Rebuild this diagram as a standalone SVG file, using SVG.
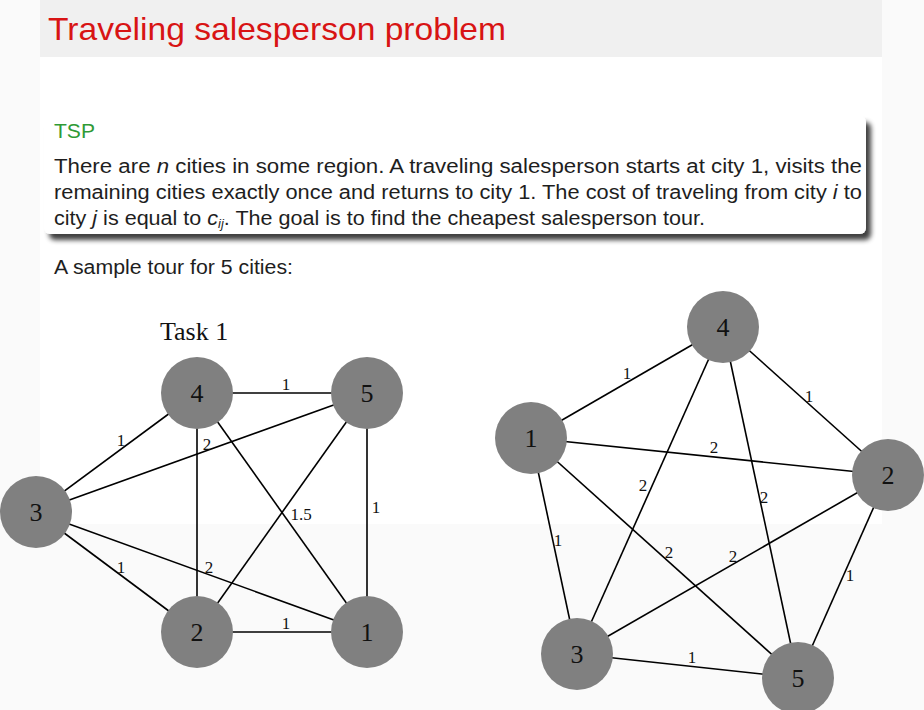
<svg xmlns="http://www.w3.org/2000/svg" width="924" height="710" viewBox="0 0 924 710">
<defs>
<style>
.body{font-family:"Liberation Sans",Arial,sans-serif;font-size:20px;fill:#1e1e1e}
.edge line{stroke:#000;stroke-width:1.6}
.node circle{fill:#808080}
.node text{font-family:"Liberation Serif","Times New Roman",serif;font-size:26px;fill:#111;text-anchor:middle}
.el{font-family:"Liberation Serif","Times New Roman",serif;font-size:17px;fill:#111;text-anchor:middle}
</style>
<filter id="sh" x="-5%" y="-20%" width="115%" height="150%">
<feGaussianBlur in="SourceAlpha" stdDeviation="2.5"/>
<feOffset dx="5" dy="6" result="o"/>
<feComponentTransfer><feFuncA type="linear" slope="0.75"/></feComponentTransfer>
<feMerge><feMergeNode/><feMergeNode in="SourceGraphic"/></feMerge>
</filter>
</defs>
<rect x="0" y="0" width="924" height="710" fill="#fafafa"/>
<rect x="40" y="57" width="842" height="467" fill="#ffffff"/>
<rect x="40" y="0" width="842" height="57" fill="#f0f0f0"/>
<text x="48" y="40" font-family="Liberation Sans,Arial,sans-serif" font-size="32" fill="#d81414" textLength="458" lengthAdjust="spacingAndGlyphs">Traveling salesperson problem</text>

<g id="tsp-box">
<rect x="44" y="116" width="822" height="118" rx="6" fill="#ffffff" filter="url(#sh)"/>
<text x="54" y="138" font-family="Liberation Sans,Arial,sans-serif" font-size="20" fill="#2f9a35" textLength="41" lengthAdjust="spacingAndGlyphs">TSP</text>
<text class="body" x="54" y="173" textLength="808" lengthAdjust="spacingAndGlyphs">There are <tspan font-style="italic">n</tspan> cities in some region.  A traveling salesperson starts at city 1, visits the</text>
<text class="body" x="54" y="199" textLength="808" lengthAdjust="spacingAndGlyphs">remaining cities exactly once and returns to city 1. The cost of traveling from city <tspan font-style="italic">i</tspan> to</text>
<text class="body" x="54" y="225" textLength="651" lengthAdjust="spacingAndGlyphs">city <tspan font-style="italic">j</tspan> is equal to <tspan font-style="italic">c</tspan><tspan font-style="italic" font-size="12" dy="3">ij</tspan><tspan dy="-3">. The goal is to find the cheapest salesperson tour.</tspan></text>
</g>
<text class="body" x="54" y="274" textLength="239" lengthAdjust="spacingAndGlyphs">A sample tour for 5 cities:</text>

<text x="160" y="340" font-family="Liberation Serif,Times New Roman,serif" font-size="26" fill="#111">Task 1</text>

<g id="connectors">
<g class="edge">
<line x1="197" y1="393" x2="367" y2="393"/>
<line x1="36" y1="512" x2="197" y2="393"/>
<line x1="36" y1="512" x2="367" y2="393"/>
<line x1="197" y1="393" x2="197" y2="632"/>
<line x1="197" y1="393" x2="367" y2="632"/>
<line x1="367" y1="393" x2="197" y2="632"/>
<line x1="367" y1="393" x2="367" y2="632"/>
<line x1="36" y1="512" x2="197" y2="632"/>
<line x1="36" y1="512" x2="367" y2="632"/>
<line x1="197" y1="632" x2="367" y2="632"/>

<line x1="531" y1="438" x2="723" y2="327"/>
<line x1="723" y1="327" x2="888" y2="475"/>
<line x1="531" y1="438" x2="888" y2="475"/>
<line x1="723" y1="327" x2="577" y2="654"/>
<line x1="723" y1="327" x2="798" y2="678"/>
<line x1="531" y1="438" x2="577" y2="654"/>
<line x1="531" y1="438" x2="798" y2="678"/>
<line x1="888" y1="475" x2="577" y2="654"/>
<line x1="888" y1="475" x2="798" y2="678"/>
<line x1="577" y1="654" x2="798" y2="678"/>
</g>
<g>
<text class="el" x="286" y="390">1</text>
<text class="el" x="121" y="446">1</text>
<text class="el" x="207" y="450">2</text>
<text class="el" x="301" y="520">1.5</text>
<text class="el" x="376" y="513">1</text>
<text class="el" x="121" y="573">1</text>
<text class="el" x="209" y="573">2</text>
<text class="el" x="286" y="629">1</text>

<text class="el" x="627" y="379">1</text>
<text class="el" x="809" y="402">1</text>
<text class="el" x="714" y="453">2</text>
<text class="el" x="643" y="491">2</text>
<text class="el" x="764" y="503">2</text>
<text class="el" x="558" y="546">1</text>
<text class="el" x="669" y="558">2</text>
<text class="el" x="733" y="562">2</text>
<text class="el" x="850" y="581">1</text>
<text class="el" x="692" y="663">1</text>
</g>
</g>

<g id="t1-node4" class="node"><circle cx="197" cy="393" r="36"/><text x="197" y="402">4</text></g>
<g id="t1-node5" class="node"><circle cx="367" cy="393" r="36"/><text x="367" y="402">5</text></g>
<g id="t1-node3" class="node"><circle cx="36" cy="512" r="36"/><text x="36" y="521">3</text></g>
<g id="t1-node2" class="node"><circle cx="197" cy="632" r="36"/><text x="197" y="641">2</text></g>
<g id="t1-node1" class="node"><circle cx="367" cy="632" r="36"/><text x="367" y="641">1</text></g>

<g id="t2-node4" class="node"><circle cx="723" cy="327" r="36"/><text x="723" y="336">4</text></g>
<g id="t2-node1" class="node"><circle cx="531" cy="438" r="36"/><text x="531" y="447">1</text></g>
<g id="t2-node2" class="node"><circle cx="888" cy="475" r="36"/><text x="888" y="484">2</text></g>
<g id="t2-node3" class="node"><circle cx="577" cy="654" r="36"/><text x="577" y="663">3</text></g>
<g id="t2-node5" class="node"><circle cx="798" cy="678" r="36"/><text x="798" y="687">5</text></g>
</svg>
